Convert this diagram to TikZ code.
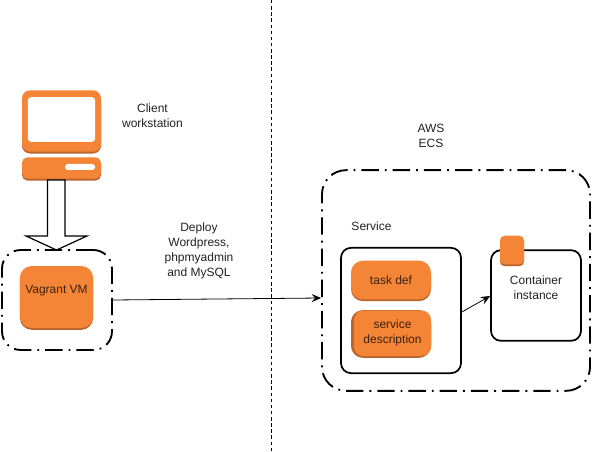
\documentclass[tikz,border=0pt]{standalone}
\usepackage{fontspec}
\setmainfont{Liberation Sans}
\usetikzlibrary{arrows.meta}
\definecolor{awsorange}{HTML}{F58536}
\definecolor{awsdark}{HTML}{B9652D}
\definecolor{labeltext}{HTML}{222222}
\tikzset{
  lbl/.style={font=\fontsize{9}{11.2}\selectfont,text=labeltext,align=center,inner sep=0pt},
  orangebox/.style={fill=awsorange,draw=none,rounded corners=#1,inner sep=0pt,align=center,
    font=\fontsize{9}{11.2}\selectfont,text=black!75!awsorange,
    preaction={fill=awsdark,draw=none,transform canvas={yshift=-1.4pt}}},
  orangebox/.default=6pt,
  dashbox/.style={draw=black,line width=1.4pt,rounded corners=14pt,inner sep=0pt,
    dash pattern=on 13pt off 4.5pt on 1.4pt off 4.5pt},
  solidbox/.style={draw=black,line width=1.3pt,rounded corners=7.5pt,inner sep=0pt,fill=white},
  conn/.style={draw=black,line width=0.6pt,-{Stealth[length=7pt,width=6pt,inset=2.5pt]}}
}
\begin{document}
\begin{tikzpicture}[x=0.75pt,y=-0.75pt]
\useasboundingbox (0,0) rectangle (592,452);
\fill[white] (0,0) rectangle (592,452);

% divider
\coordinate (divtop) at (271,0);
\coordinate (divbot) at (271,452);
\draw[black,line width=0.6pt,dash pattern=on 2.6pt off 2pt] (divtop) -- (divbot);

% workstation
\node[orangebox=6pt,minimum width=59.25pt,minimum height=46pt] (monitor) at (61.5,121) {};
\node[fill=white,rounded corners=2.5pt,minimum width=50.5pt,minimum height=33.5pt,inner sep=0pt] (screen) at (61.5,119.5) {};
\node[orangebox=4pt,minimum width=59.25pt,minimum height=16pt] (base) at (61.5,168) {};
\node[fill=white,rounded corners=2pt,minimum width=22.5pt,minimum height=4.5pt,inner sep=0pt] (slot) at (80,167) {};

% Vagrant box
\node[dashbox,minimum width=82.5pt,minimum height=75pt] (vagrant) at (57,300) {};
\node[orangebox=9pt,minimum width=55pt,minimum height=46.5pt] (vm) at (56.5,297) {};
\node[lbl,text=black!75!awsorange] at (56.5,291) {Vagrant VM};

% big arrow
\draw[black,line width=0.9pt,fill=white]
  (47.5,180) -- (47.5,236) -- (26,236) -- (56.5,250) -- (87,236) -- (65,236) -- (65,180) -- cycle;

% AWS box
\node[dashbox,rounded corners=18pt,minimum width=201pt,minimum height=165.5pt] (ecs) at (456,280.5) {};
\node[solidbox,minimum width=90pt,minimum height=94pt] (service) at (401,310.5) {};
\node[orangebox=9pt,minimum width=60pt,minimum height=29pt] (taskdef) at (391,280) {task def};
\node[orangebox=9pt,fill=awsdark,minimum width=60pt,minimum height=34.5pt] (svcd) at (391,333) {};
\fill[awsorange,rounded corners=7pt] (354,310.5) rectangle (431,356);
\node[lbl,text=black!75!awsorange] at (392.5,333) {service\\description};
\node[solidbox,minimum width=67.5pt,minimum height=68pt] (container) at (536,295.5) {};
\node[orangebox=3.5pt,minimum width=18pt,minimum height=21.5pt] (badge) at (512,250) {};

% connectors
\draw[conn] (vagrant.east |- 0,300) -- (ecs.west |- 0,298);
\draw[conn] (service.east |- 0,312) -- (container.west |- 0,296);

% labels
\node[lbl] at (152.5,116) {Client\\workstation};
\node[lbl] at (199,250.5) {Deploy\\Wordpress,\\phpmyadmin\\and MySQL};
\node[lbl] at (431,136) {AWS\\ECS};
\node[lbl] at (371.5,226) {Service};
\node[lbl] at (536,288) {Container\\instance};
\end{tikzpicture}
\end{document}
